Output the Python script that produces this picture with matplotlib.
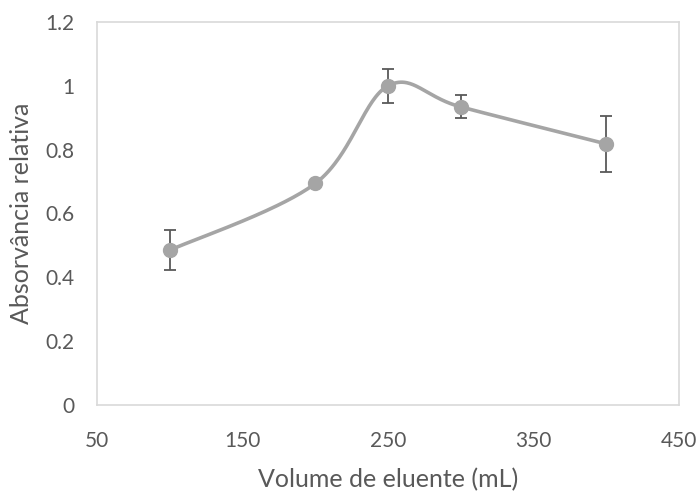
import numpy as np
import matplotlib.pyplot as plt

#------ Datos
volumen = [100, 200, 250, 300, 400]          # mL
absorb = [0.485, 0.694, 1.0, 0.934, 0.818]    # absorvancia relativa
error = [0.063, 0.0, 0.053, 0.036, 0.088]     # barras de error

x_ticks = [50, 150, 250, 350, 450]
y_ticks = [0, 0.2, 0.4, 0.6, 0.8, 1.0, 1.2]

gris = '#A5A5A5'
gris_osc = '#595959'

#------ Curva suavizada tipo Excel (Bezier con puntos de control Catmull-Rom)
def suavizar(x, y, n=60):
	P = np.column_stack([x, y]).astype(float)
	P = np.vstack([P[0], P, P[-1]])
	cx, cy = [], []
	t = np.linspace(0, 1, n)[:, None]
	for i in range(1, len(P) - 2):
		p0, p1, p2, p3 = P[i-1], P[i], P[i+1], P[i+2]
		c1 = p1 + (p2 - p0) / 6.
		c2 = p2 - (p3 - p1) / 6.
		B = (1-t)**3*p1 + 3*(1-t)**2*t*c1 + 3*(1-t)*t**2*c2 + t**3*p2
		cx.extend(B[:, 0]); cy.extend(B[:, 1])
	return np.array(cx), np.array(cy)

plt.rcParams['font.family'] = ['Lato', 'DejaVu Sans']

fig = plt.figure(figsize=(6.99, 4.93), dpi=100)
ax = fig.add_axes([0.1388, 0.1785, 0.8326, 0.7769])

sx, sy = suavizar(volumen, absorb)
ax.plot(sx, sy, '-', color=gris, lw=2.6, solid_capstyle='round', zorder=2)
ax.errorbar(volumen, absorb, yerr=error, fmt='none', ecolor=gris_osc,
	elinewidth=1.3, capsize=4.5, capthick=1.3, zorder=3)
ax.plot(volumen, absorb, 'o', color=gris, ms=10, zorder=4)

ax.set_xlim(50, 450)
ax.set_ylim(0, 1.2)
ax.set_xticks(x_ticks)
ax.set_yticks(y_ticks)
ax.set_yticklabels(['0', '0.2', '0.4', '0.6', '0.8', '1', '1.2'])
ax.tick_params(length=0, labelsize=15, colors=gris_osc)
ax.tick_params(axis='y', pad=16)
ax.tick_params(axis='x', pad=19)
for s in ax.spines.values():
	s.set_color('#D9D9D9')
	s.set_linewidth(1.2)

ax.set_xlabel('Volume de eluente (mL)', fontsize=18, color=gris_osc, labelpad=12)
ax.set_ylabel('Absorvância relativa', fontsize=18, color=gris_osc, labelpad=9)

fig.savefig('out.png', dpi=100)
